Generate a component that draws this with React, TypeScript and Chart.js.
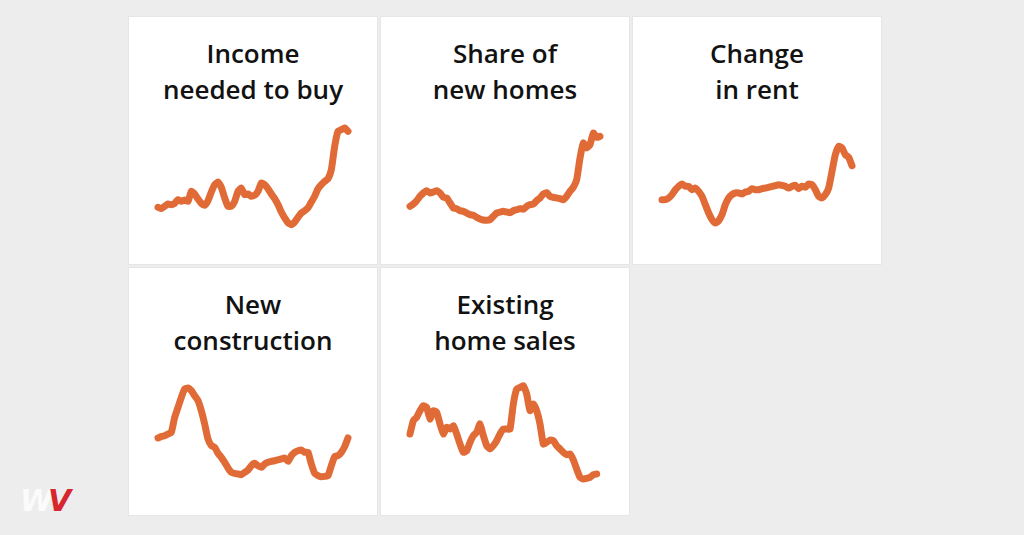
import React, { useEffect, useRef } from "react";
import { Chart, registerables } from "chart.js";

Chart.register(...registerables);

// Relative index values (0 = bottom of plot band, 100 = top)
const incomeNeeded = [
  27.0, 25.8, 27.9, 30.0, 29.4, 30.6, 33.9, 32.4, 33.6, 32.4,
  41.5, 39.1, 34.5, 30.6, 28.8, 33.0, 40.9, 47.6, 50.0, 45.2,
  35.5, 27.9, 27.9, 32.4, 41.5, 44.5, 38.5, 39.1, 37.0, 37.9,
  41.5, 49.1, 47.6, 43.9, 39.1, 34.8, 29.4, 22.7, 17.3, 13.0,
  11.2, 13.6, 17.9, 21.8, 23.9, 26.4, 31.8, 37.0, 43.9, 47.6,
  50.6, 53.0, 61.2, 82.4, 96.1, 97.6, 99.1, 96.1,
];
const shareNewHomes = [
  27.9, 30.0, 33.0, 37.0, 40.0, 42.1, 40.0, 40.9, 42.1, 40.0,
  36.1, 35.5, 30.9, 26.4, 25.8, 23.9, 23.3, 21.8, 20.3, 19.7,
  17.9, 16.4, 15.5, 15.2, 15.8, 18.8, 21.8, 22.7, 23.3, 22.7,
  22.1, 23.9, 24.8, 25.8, 25.2, 27.9, 29.4, 30.0, 33.0, 35.5,
  39.1, 40.3, 37.0, 36.1, 35.5, 34.8, 33.9, 37.0, 41.5, 45.2,
  52.1, 71.8, 85.5, 80.9, 83.9, 94.5, 90.6, 91.5,
];
const rentChange = [
  33.9, 33.9, 35.5, 38.5, 43.0, 46.1, 48.2, 46.1, 46.1, 43.0,
  44.5, 41.5, 37.0, 29.4, 21.8, 15.8, 12.7, 14.8, 20.3, 29.4,
  35.5, 38.5, 40.0, 40.0, 39.1, 40.9, 41.5, 43.9, 43.0, 43.0,
  43.9, 44.5, 45.2, 46.1, 46.7, 47.6, 47.0, 46.1, 44.5, 46.1,
  47.0, 43.9, 46.1, 45.2, 48.2, 47.6, 43.0, 37.0, 35.5, 38.5,
  44.5, 59.7, 74.8, 82.4, 80.9, 74.8, 72.4, 64.8,
];
const newConstruction = [
  45.5, 46.7, 47.6, 49.1, 50.6, 64.2, 73.3, 82.4, 90.0, 90.9,
  88.5, 83.9, 79.4, 70.3, 58.2, 44.5, 38.5, 37.0, 31.5, 27.9,
  23.3, 18.2, 14.2, 13.3, 12.7, 12.1, 14.2, 16.4, 20.3, 22.4,
  20.3, 18.8, 21.8, 23.3, 24.2, 24.8, 25.5, 26.4, 27.3, 24.2,
  29.4, 32.4, 33.9, 34.5, 32.4, 32.4, 21.8, 13.3, 11.2, 10.3,
  10.6, 11.2, 20.3, 28.5, 29.4, 32.4, 37.6, 45.5,
];
const existingSales: (number | null)[] = [
  49.1, 61.2, 64.2, 70.3, 74.8, 73.3, 62.7, 70.3, 68.8, 58.2,
  49.1, 55.2, 53.6, 56.7, 49.1, 40.0, 32.4, 33.9, 41.5, 47.6,
  50.6, 58.2, 47.6, 38.5, 35.5, 38.5, 43.0, 49.1, 53.6, 53.6,
  53.6, 76.4, 90.0, 91.5, 93.0, 85.5, 70.3, 76.4, 70.3, 58.2,
  40.0, 41.5, 43.6, 43.0, 38.5, 35.5, 32.4, 30.3, 30.9, 25.5,
  17.3, 9.7, 8.2, 8.8, 9.7, 12.1, 12.7, null,
];

const periods = incomeNeeded.map((_, i) => String(i));

const panels: { title: string[]; values: (number | null)[] }[] = [
  { title: ["Income", "needed to buy"], values: incomeNeeded },
  { title: ["Share of", "new homes"], values: shareNewHomes },
  { title: ["Change", "in rent"], values: rentChange },
  { title: ["New", "construction"], values: newConstruction },
  { title: ["Existing", "home sales"], values: existingSales },
];

const LINE = "#E06B37";
const FONT = "'Open Sans', Roboto, 'Liberation Sans', Arial, sans-serif";

function MiniChart({ values }: { values: (number | null)[] }) {
  const ref = useRef<HTMLCanvasElement | null>(null);
  useEffect(() => {
    if (!ref.current) return;
    const chart = new Chart(ref.current, {
      type: "line",
      data: {
        labels: periods,
        datasets: [
          {
            data: values,
            borderColor: LINE,
            borderWidth: 7,
            pointRadius: 0,
            tension: 0.15,
            borderCapStyle: "round",
            borderJoinStyle: "round",
            fill: false,
            clip: false as any,
          },
        ],
      },
      options: {
        animation: false,
        responsive: false,
        maintainAspectRatio: false,
        layout: { padding: { left: 10, right: 12, top: 10, bottom: 10 } },
        plugins: { legend: { display: false }, tooltip: { enabled: false } },
        scales: {
          x: { display: false, offset: false },
          y: { display: false, min: 0, max: 100 },
        },
      },
    });
    return () => chart.destroy();
  }, [values]);
  return (
    <canvas
      ref={ref}
      width={212}
      height={130}
      style={{ position: "absolute", left: 19, top: 100, width: 212, height: 130 }}
    />
  );
}

const colLeft = [129, 381, 633];
const rowTop = [17, 268];

export default function App() {
  return (
    <div
      style={{
        position: "fixed",
        left: 0,
        top: 0,
        width: 1024,
        height: 535,
        background: "#ededed",
        overflow: "hidden",
        fontFamily: FONT,
      }}
    >
      {panels.map((p, i) => (
        <div
          key={i}
          style={{
            position: "absolute",
            left: colLeft[i % 3],
            top: rowTop[Math.floor(i / 3)],
            width: 248,
            height: 247,
            background: "#ffffff",
            boxShadow: "0 0 0 1px #e6e6e6",
          }}
        >
          <div
            style={{
              position: "absolute",
              left: 0,
              top: 18,
              width: 248,
              textAlign: "center",
              fontSize: 26,
              lineHeight: "36px",
              fontWeight: 600,
              color: "#121212",
              whiteSpace: "nowrap",
            }}
          >
            {p.title.map((t, k) => (
              <div key={k}>{t}</div>
            ))}
          </div>
          <MiniChart values={p.values} />
        </div>
      ))}
      <div
        style={{
          position: "absolute",
          left: 20,
          top: 484,
          fontSize: 30,
          fontWeight: 900,
          fontStyle: "italic",
          letterSpacing: -5,
          fontFamily: "'DejaVu Sans', sans-serif",
          lineHeight: "34px",
        }}
      >
        <span style={{ color: "#fbfbfb" }}>W</span>
        <span style={{ color: "#d7262e" }}>V</span>
      </div>
    </div>
  );
}
